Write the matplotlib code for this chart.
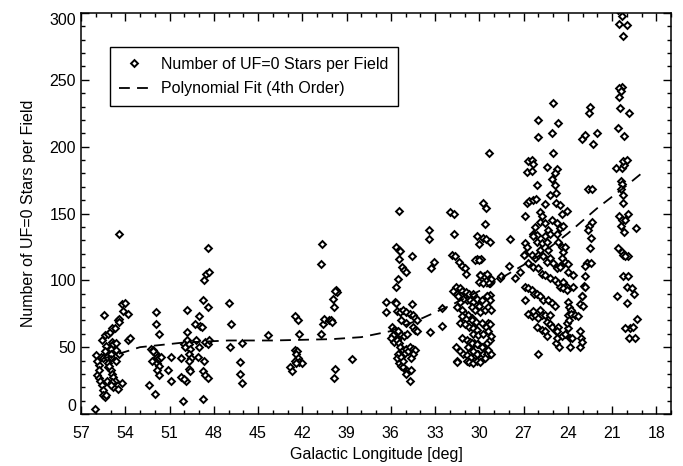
import numpy as np
import matplotlib
matplotlib.use("Agg")
import matplotlib.pyplot as plt
from matplotlib.ticker import MultipleLocator

plt.rcParams['font.family'] = ['Liberation Sans', 'DejaVu Sans']

lon_a = [56.05, 55.9, 55.8, 55.75, 55.7, 55.67, 55.6, 55.58, 55.5, 55.5, 55.4, 55.3,
         55.42, 55.37, 55.25, 55.5, 55.25, 55.15, 55.03, 55.0, 55.15, 55.0, 54.9, 54.8,
         54.95, 55.15, 55.0, 54.9, 54.8, 54.7, 54.9, 54.7, 54.5, 54.4, 54.4, 54.24,
         54.0, 54.18, 53.8, 54.45, 53.8, 53.7, 54.6, 54.45, 54.6, 54.8, 54.5, 54.25,
         54.9, 55.0, 55.8, 56.0, 55.9, 55.2, 55.1, 55.3, 54.65, 55.35]
cnt_a = [4, 29, 27, 37, 25, 43, 22, 55, 18, 14, 13, 14,
         74, 59, 25, 42, 43, 60, 61, 43, 48, 49, 54, 52,
         45, 35, 33, 30, 28, 25, 64, 64, 70, 71, 135, 82,
         83, 77, 75, 69, 55, 57, 48, 45, 40, 20, 19, 23,
         24, 22, 33, 44, 40, 38, 36, 51, 53, 47]

lon_b = [51.94, 51.92, 51.7, 52.37, 51.98, 52.2, 51.87, 51.7, 51.87, 51.7, 52.25,
         52.1, 52.0, 51.9, 51.85, 51.8, 51.7, 51.6, 52.15, 50.9, 51.08, 50.92]
cnt_b = [76, 67, 60, 22, 15, 40, 38, 36, 33, 29, 49,
         48, 46, 45, 43, 41, 42, 43, 47, 43, 33, 25]

lon_c = [49.8, 49.83, 49.8, 50.0, 49.95, 49.7, 49.6, 49.7, 49.55, 49.7, 50.2, 50.2,
         49.9, 50.05, 49.7, 49.6, 50.06, 49.3, 49.0, 48.9, 48.8, 49.1, 49.0, 49.2,
         48.75, 48.7, 48.65, 48.55, 48.3, 48.4, 48.4, 48.65, 48.75, 48.6, 48.4, 48.6,
         48.4, 48.3]
cnt_c = [78, 61, 55, 52, 50, 52, 49, 45, 42, 40, 42, 28,
         25, 26, 34, 32, 10, 67, 73, 66, 65, 43, 50, 55,
         11, 85, 100, 105, 106, 124, 80, 40, 32, 29, 27, 54,
         52, 55]

lon_d = [47.0, 46.8, 46.9, 46.1, 46.2, 46.2, 46.1, 44.3,
         42.5, 42.3, 42.2, 42.5, 42.35, 42.4, 42.8, 42.67, 42.3, 42.2, 42.0, 42.5, 42.4]
cnt_d = [83, 67, 50, 53, 39, 30, 23, 59,
         73, 70, 60, 48, 47, 45, 35, 32, 42, 39, 38, 40, 38]

lon_e = [40.64, 40.7, 40.7, 40.57, 40.5, 40.2, 40.07, 39.96, 39.9, 39.82, 39.71,
         39.66, 39.75, 39.78, 39.82, 38.6]
cnt_e = [127, 112, 60, 67, 71, 70, 70, 69, 86, 80, 93,
         91, 92, 34, 27, 41]

lon_f = [35.46, 35.64, 35.46, 35.35, 35.46, 34.58, 35.26, 35.1, 34.96, 35.53, 35.64,
         36.32, 35.7, 35.64, 36.32, 35.55, 35.4, 35.15, 35.0, 34.58, 34.7, 34.5,
         34.35, 34.2, 34.5, 34.35, 34.25, 35.3, 35.0, 35.9, 35.8, 35.85, 36.0, 35.75,
         35.6, 35.45, 35.5, 35.3, 35.1, 34.9, 35.4, 35.2, 35.05, 34.95, 34.8, 34.7,
         34.5, 34.35, 34.5, 34.6, 35.5, 35.4, 35.45, 35.3, 35.15, 35.0, 34.9, 34.7,
         34.6, 34.95, 35.55, 35.3, 35.2,
         33.43, 33.38, 33.1, 33.27, 33.34, 32.5, 32.5]
cnt_f = [152, 125, 123, 122, 116, 118, 110, 108, 106, 101, 95,
         84, 84, 83, 76, 77, 76, 78, 76, 82, 75, 74,
         72, 70, 65, 63, 62, 70, 68, 65, 63, 59, 57, 54,
         55, 53, 62, 59, 58, 60, 50, 48, 46, 49, 47, 50,
         49, 48, 45, 42, 45, 40, 38, 36, 35, 33, 32, 25,
         33, 30, 42, 43, 40,
         138, 131, 114, 109, 61, 79, 66]

lon_g = [31.98, 31.69, 31.71, 31.82, 31.64, 31.4, 31.2, 31.0, 30.9, 29.34, 29.72,
         29.54, 29.6, 30.17, 29.72, 29.56, 29.3, 30.0, 30.17, 29.88, 29.95, 29.68,
         29.5, 29.27, 29.2, 28.6, 31.6, 31.3, 31.15, 30.9, 30.7, 31.5, 29.27, 29.38,
         29.5, 29.3,
         31.76, 31.5, 31.27, 31.0, 30.85, 31.42, 31.08, 31.3, 31.49, 31.19, 30.97,
         30.74, 31.19, 30.9, 30.63, 30.4, 30.18, 30.0, 31.3, 30.97, 30.67, 30.4,
         30.18, 30.29, 30.5, 31.19, 30.85, 30.63, 30.36, 30.06, 30.74, 31.3, 31.08,
         30.81, 30.58, 30.29, 30.06, 30.85, 30.67, 30.45, 30.18, 31.58, 31.5,
         30.3, 30.0, 29.95, 30.0, 29.73, 29.32, 30.4, 29.84, 29.5, 29.27, 30.52,
         30.3, 29.95, 29.61, 29.39, 29.23, 30.52, 30.22, 29.84, 29.55, 29.27, 30.4,
         30.07, 29.73, 29.39, 30.52, 30.18, 29.84, 29.5, 30.4, 30.13, 29.77, 29.45,
         29.23, 29.95, 29.6, 29.4, 29.3, 29.2]
cnt_g = [151, 150, 135, 119, 118, 114, 111, 109, 105, 195, 158,
         154, 142, 133, 132, 131, 129, 127, 116, 116, 104, 103,
         105, 98, 101, 102, 95, 94, 92, 91, 90, 40, 45, 68,
         88, 89,
         92, 90, 88, 87, 85, 88, 86, 84, 80, 78, 75,
         74, 73, 71, 85, 84, 86, 81, 68, 67, 65, 64,
         63, 69, 72, 57, 55, 54, 53, 52, 50, 47, 45,
         44, 43, 44, 45, 40, 39, 38, 40, 50, 39,
         115, 115, 104, 99, 98, 98, 90, 85, 88, 85, 80,
         78, 76, 78, 80, 78, 70, 69, 68, 65, 67, 60,
         59, 60, 62, 53, 52, 50, 53, 47, 45, 45, 45,
         45, 39, 42, 48, 55, 58]

lon_h = [28.55, 27.9, 27.96, 27.58, 27.24,
         25.03, 26.0, 24.64, 26.0, 25.09, 24.98, 26.72, 26.45, 26.33, 26.79, 26.45,
         25.43, 24.71, 24.87, 25.05, 24.87, 24.8, 26.11, 26.79, 26.61, 26.34, 26.16,
         25.55, 25.2, 24.8, 24.53, 24.08, 26.9, 25.88, 25.77, 25.88, 26.22, 26.33,
         26.1, 25.09, 24.76, 24.53, 25.55, 25.32, 25.2, 24.71, 24.64, 24.42, 24.3,
         26.9, 26.74, 26.9, 27.0, 26.33, 26.1, 25.77, 25.55, 25.43, 25.32, 25.88,
         26.45, 26.22, 26.0, 25.66, 25.43, 25.2, 24.98, 24.76, 24.53, 24.2, 26.67,
         26.33, 26.0, 25.77, 25.55, 25.2, 24.87, 24.64, 24.3, 24.08, 26.9, 26.67,
         26.45, 26.29, 26.9, 26.11, 25.88, 25.66, 25.32, 25.09, 24.87, 24.53, 24.3,
         24.08, 26.67, 26.45, 26.22, 26.0, 25.77, 25.55, 25.2, 26.33, 25.88, 26.11,
         25.43, 25.2, 25.09, 25.77, 25.55, 24.8, 24.64, 24.42, 24.2, 23.96, 23.85,
         26.0, 25.43, 24.8, 24.6, 24.53, 23.96, 24.0, 23.9, 23.8, 23.96, 23.8,
         23.5, 23.28, 24.03, 23.9, 24.75, 24.7, 23.17, 23.1, 23.7, 23.67, 23.06,
         23.17, 22.83, 22.88, 22.7, 23.85, 23.17, 23.06, 24.42, 24.3, 24.2, 24.0,
         23.63, 24.42]
cnt_h = [103, 131, 111, 102, 106,
         233, 220, 218, 207, 210, 195, 189, 190, 187, 181, 182,
         185, 183, 180, 176, 171, 165, 171, 158, 159, 160, 161,
         157, 164, 158, 156, 152, 148, 151, 148, 144, 140, 135,
         134, 145, 143, 139, 143, 138, 135, 135, 129, 125, 121,
         128, 125, 120, 119, 133, 129, 128, 133, 129, 123, 123,
         119, 117, 119, 118, 114, 117, 113, 109, 111, 114, 113,
         110, 109, 105, 104, 102, 100, 98, 99, 95, 95, 94,
         93, 90, 85, 90, 88, 85, 85, 83, 81, 95, 94,
         93, 75, 73, 74, 72, 74, 74, 74, 77, 78, 65,
         69, 67, 65, 63, 62, 62, 65, 58, 60, 64, 57,
         45, 58, 53, 50, 110, 112, 84, 80, 78, 74, 75,
         74, 73, 68, 70, 62, 57, 62, 57, 57, 95, 88,
         82, 103, 96, 113, 50, 50, 54, 150, 141, 125, 106,
         104, 117]

lon_k = [23.06, 22.83, 22.27, 22.04, 22.5, 22.54, 22.61, 22.34, 22.38, 22.54, 22.61,
         22.43, 22.5, 22.72, 22.83, 22.45, 22.83, 23.06, 22.95,
         20.57, 20.35, 20.51, 20.0, 20.23, 20.35, 20.51, 20.42, 20.51, 20.46, 19.85,
         20.57, 20.19, 20.73, 20.35, 20.19, 20.23, 20.01, 20.4, 20.35, 20.4, 20.23,
         20.23, 20.51, 19.9, 20.35, 20.12, 20.4, 20.19, 19.38, 20.57, 20.35, 20.23,
         19.9, 20.1, 20.28, 19.9, 20.01, 19.67, 19.51, 20.64, 20.01, 19.33, 19.78,
         19.56, 20.12, 19.83, 19.45]
cnt_k = [206, 209, 202, 210, 230, 225, 168, 168, 144, 141, 138,
         132, 124, 113, 111, 113, 95, 88, 81,
         302, 298, 292, 291, 283, 245, 244, 242, 237, 229, 225,
         214, 208, 184, 184, 186, 189, 190, 174, 172, 168, 164,
         158, 148, 150, 145, 145, 141, 136, 139, 124, 121, 119,
         118, 118, 103, 103, 95, 94, 90, 88, 83, 71, 64,
         65, 64, 57, 57]

# 4th order polynomial fit, sampled off the dashed curve
fit_lon = [55.6, 53.0, 50.0, 47.0, 44.0, 42.0, 40.0, 38.0, 36.0, 34.0, 32.0,
           30.0, 28.0, 26.0, 24.0, 22.0, 20.0, 19.0]
fit_cnt = [41, 50, 53.5, 55, 55, 55.5, 56, 57.5, 62, 71, 81,
           92, 105, 118, 135, 154, 171, 180]

lon = np.concatenate([lon_a, lon_b, lon_c, lon_d, lon_e, lon_f, lon_g, lon_h, lon_k])
cnt = np.concatenate([cnt_a, cnt_b, cnt_c, cnt_d, cnt_e, cnt_f, cnt_g, cnt_h, cnt_k])

fig = plt.figure(figsize=(6.83, 4.66), dpi=100)
ax = fig.add_axes([81 / 683, 1 - 414 / 466, 590 / 683, 401 / 466])

ax.plot(lon, cnt, linestyle='none', marker='D', markersize=3.5, markerfacecolor='white',
        markeredgecolor='black', markeredgewidth=1.4, label='Number of UF=0 Stars per Field')
ax.plot(fit_lon, fit_cnt, color='black', linestyle=(0, (6, 4)), linewidth=1.3,
        label='Polynomial Fit (4th Order)')

ax.set_xlim(57, 17)
ax.set_ylim(0, 300)
ax.set_xticks(np.arange(57, 17, -3))
ax.set_yticks(np.arange(0, 301, 50))
ax.xaxis.set_minor_locator(MultipleLocator(1))
ax.yaxis.set_minor_locator(MultipleLocator(10))
ax.tick_params(which='both', direction='in', top=True, right=True, labelsize=11.5, width=1)
ax.tick_params(which='major', length=6)
ax.tick_params(which='minor', length=3)
ax.tick_params(axis='x', which='major', pad=9)
for s in ax.spines.values():
    s.set_linewidth(1.1)

# end labels sit inside the axis range, like the original
yticks = ax.yaxis.get_major_ticks()
yticks[0].label1.set_verticalalignment('bottom')
yticks[-1].label1.set_verticalalignment('top')

ax.set_xlabel('Galactic Longitude [deg]', fontsize=11.5)
ax.set_ylabel('Number of UF=0 Stars per Field', fontsize=11.5, labelpad=10)

leg = ax.legend(loc='upper left', bbox_to_anchor=(0.049, 0.915), borderaxespad=0,
                fontsize=11.5, fancybox=False, edgecolor='black', framealpha=1,
                borderpad=0.6, labelspacing=0.6, handlelength=1.8, handletextpad=0.8)
leg.get_frame().set_linewidth(1.0)

fig.savefig('out.png', dpi=100)
